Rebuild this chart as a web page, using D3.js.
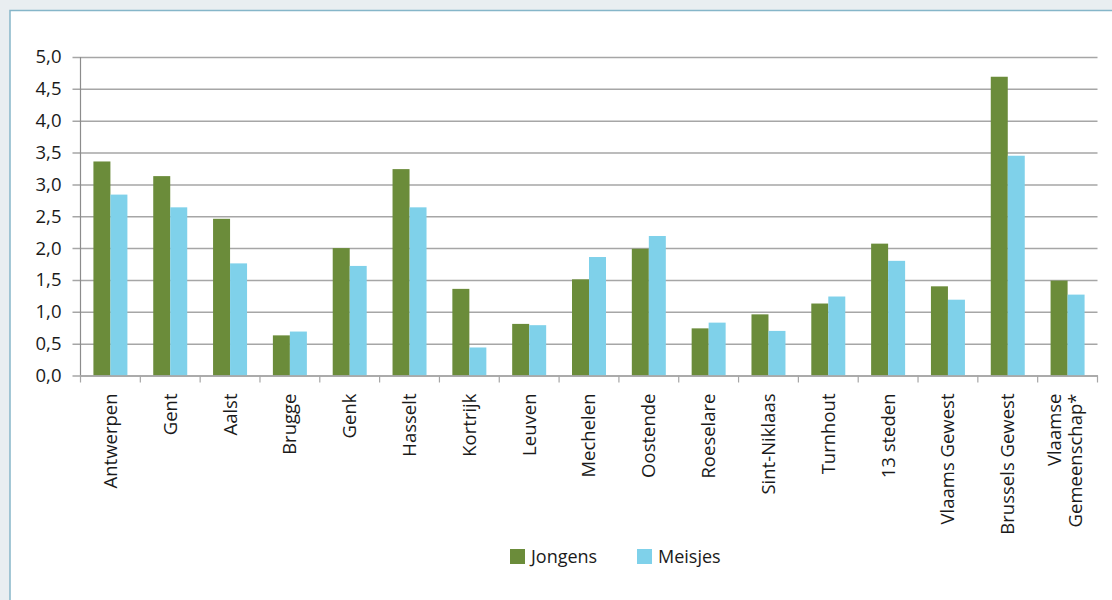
<!DOCTYPE html>
<html><head><meta charset="utf-8">
<script src="https://cdn.jsdelivr.net/npm/d3@7/dist/d3.min.js"></script>
<style>
html,body{margin:0;padding:0;background:#e9eef1;}
svg{display:block;}
text{font-family:"Open Sans",sans-serif;fill:#1a1a1a;}
</style></head>
<body>
<script>
const categories = ["Antwerpen","Gent","Aalst","Brugge","Genk","Hasselt","Kortrijk","Leuven","Mechelen","Oostende","Roeselare","Sint-Niklaas","Turnhout","13 steden","Vlaams Gewest","Brussels Gewest","Vlaamse\nGemeenschap*"];
const jongens = [3.36,3.13,2.46,0.63,2.00,3.24,1.36,0.81,1.51,1.99,0.74,0.96,1.13,2.07,1.40,4.69,1.49];
const meisjes = [2.84,2.64,1.76,0.69,1.72,2.64,0.44,0.79,1.86,2.19,0.83,0.70,1.24,1.80,1.19,3.45,1.27];
const seriesNames = ["Jongens","Meisjes"];
const yTicks = [0,0.5,1,1.5,2,2.5,3,3.5,4,4.5,5];
const colors = ["#6b8c3a","#7fd1ea"];

const W = 1112, H = 600;
const svg = d3.select("body").append("svg").attr("width",W).attr("height",H);
// panel
svg.append("rect").attr("x",10).attr("y",10.5).attr("width",W).attr("height",H)
  .attr("fill","#fff").attr("stroke","#86b6c9").attr("stroke-width",1.5);

const m = {left:80.5, right:1097.5, top:57, bottom:375.5};
const x = d3.scaleBand().domain(categories).range([m.left,m.right]).paddingInner(0).paddingOuter(0);
const y = d3.scaleLinear().domain([0,5]).range([m.bottom,m.top]);
const x1 = d3.scaleBand().domain(seriesNames).range([0,x.bandwidth()]).paddingInner(0).paddingOuter(0.76);

// gridlines + y ticks
const yAxis = d3.axisLeft(y).tickValues(yTicks).tickSize(-(m.right-m.left)).tickPadding(10)
  .tickFormat(d=>d3.format(".1f")(d).replace(".",","));
const gy = svg.append("g").attr("transform",`translate(${m.left},0)`).call(yAxis);
gy.select(".domain").remove();
gy.selectAll(".tick line").attr("stroke","#a6a6a6").attr("stroke-width",1.5).attr("x1",-8);
gy.selectAll(".tick text").attr("x",-19).style("font-size","18.5px").attr("fill","#1a1a1a");

// bars
const groups = svg.append("g").selectAll("g").data(categories).join("g")
  .attr("transform",d=>`translate(${x(d)},0)`);
groups.selectAll("rect").data((d,i)=>[{s:"Jongens",v:jongens[i]},{s:"Meisjes",v:meisjes[i]}]).join("rect")
  .attr("x",d=>x1(d.s)).attr("width",x1.bandwidth())
  .attr("y",d=>y(d.v)).attr("height",d=>y(0)-y(d.v))
  .attr("fill",(d,i)=>colors[i]);

// y axis line
svg.append("line").attr("x1",m.left).attr("x2",m.left).attr("y1",m.top).attr("y2",m.bottom)
  .attr("stroke","#8c8c8c").attr("stroke-width",1.2);

// x axis
const xAxis = d3.axisBottom(x).tickSize(0).tickFormat("");
const gx = svg.append("g").attr("transform",`translate(0,${m.bottom})`).call(xAxis);
gx.select(".domain").attr("stroke","#a6a6a6").attr("stroke-width",1.5);
// boundary ticks
const bounds = categories.map(c=>x(c)).concat([x(categories[categories.length-1])+x.bandwidth()]);
gx.selectAll(".bt").data(bounds).join("line").attr("class","bt")
  .attr("x1",d=>d).attr("x2",d=>d).attr("y1",0).attr("y2",7)
  .attr("stroke","#a6a6a6").attr("stroke-width",1.2);

// x labels rotated
const lab = svg.append("g").selectAll("text").data(categories).join("text")
  .attr("transform",d=>`translate(${x(d)+x.bandwidth()/2},${m.bottom+18}) rotate(-90)`)
  .attr("text-anchor","end").style("font-size","18.5px");
lab.each(function(d){
  const lines = d.split("\n");
  const n = lines.length;
  d3.select(this).selectAll("tspan").data(lines).join("tspan")
    .attr("x",0).attr("dy",(l,i)=> i===0 ? `${(0.35 - (n-1)*0.6 - 0.1*(n-1))}em` : "1.15em")
    .text(l=>l);
});

// legend
const leg = svg.append("g").attr("transform","translate(510,549)");
seriesNames.forEach((s,i)=>{
  const g = leg.append("g").attr("transform",`translate(${i*127},0)`);
  g.append("rect").attr("width",15).attr("height",15).attr("fill",colors[i]);
  g.append("text").attr("x",21).attr("y",14).style("font-size","18px").text(s);
});
</script>
</body></html>
